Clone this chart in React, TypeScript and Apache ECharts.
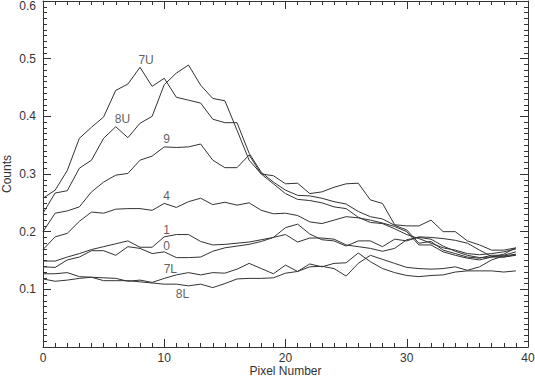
import React, { useEffect, useRef } from "react";
import * as echarts from "echarts";

const pixelNumbers = [0,1,2,3,4,5,6,7,8,9,10,11,12,13,14,15,16,17,18,19,20,21,22,23,24,25,26,27,28,29,30,31,32,33,34,35,36,37,38,39];

const s7U = [0.258,0.272,0.306,0.362,0.381,0.399,0.445,0.456,0.485,0.452,0.466,0.433,0.428,0.423,0.395,0.389,0.389,0.336,0.303,0.286,0.272,0.263,0.262,0.258,0.252,0.248,0.235,0.226,0.222,0.211,0.203,0.180,0.183,0.168,0.162,0.156,0.154,0.159,0.159,0.165];
const s8U = [0.232,0.267,0.271,0.310,0.324,0.362,0.382,0.363,0.388,0.400,0.455,0.475,0.489,0.454,0.431,0.427,0.376,0.324,0.300,0.283,0.266,0.256,0.254,0.250,0.243,0.240,0.225,0.216,0.214,0.205,0.195,0.188,0.180,0.172,0.168,0.162,0.160,0.162,0.165,0.170];
const s9 = [0.200,0.232,0.236,0.243,0.269,0.286,0.298,0.301,0.324,0.331,0.347,0.346,0.347,0.352,0.324,0.311,0.311,0.333,0.300,0.297,0.283,0.284,0.266,0.269,0.277,0.283,0.284,0.255,0.249,0.212,0.210,0.210,0.220,0.200,0.200,0.184,0.177,0.168,0.168,0.172];
const s4 = [0.169,0.191,0.197,0.218,0.234,0.232,0.239,0.240,0.240,0.237,0.249,0.242,0.252,0.258,0.247,0.251,0.246,0.250,0.237,0.231,0.232,0.228,0.217,0.214,0.220,0.226,0.224,0.220,0.215,0.209,0.200,0.177,0.177,0.165,0.159,0.154,0.151,0.156,0.156,0.159];
const s1 = [0.149,0.149,0.156,0.162,0.169,0.174,0.179,0.184,0.173,0.173,0.191,0.195,0.195,0.183,0.177,0.178,0.180,0.182,0.186,0.190,0.207,0.213,0.196,0.186,0.184,0.175,0.184,0.184,0.174,0.187,0.184,0.191,0.190,0.188,0.185,0.180,0.168,0.157,0.156,0.160];
const s0 = [0.139,0.138,0.151,0.156,0.167,0.167,0.159,0.174,0.171,0.162,0.165,0.155,0.155,0.156,0.166,0.172,0.175,0.178,0.183,0.190,0.195,0.182,0.189,0.189,0.187,0.177,0.174,0.171,0.166,0.171,0.186,0.190,0.187,0.175,0.166,0.159,0.155,0.156,0.161,0.172];
const s7L = [0.118,0.114,0.116,0.119,0.121,0.120,0.119,0.114,0.116,0.112,0.119,0.125,0.129,0.125,0.129,0.128,0.135,0.145,0.136,0.127,0.142,0.131,0.144,0.139,0.145,0.146,0.163,0.148,0.136,0.129,0.124,0.122,0.124,0.125,0.130,0.132,0.132,0.132,0.130,0.132];
const s8L = [0.127,0.127,0.129,0.122,0.121,0.115,0.115,0.115,0.113,0.111,0.109,0.109,0.106,0.109,0.103,0.110,0.118,0.119,0.119,0.120,0.128,0.131,0.139,0.140,0.136,0.123,0.145,0.159,0.152,0.145,0.138,0.136,0.135,0.136,0.139,0.133,0.139,0.151,0.158,0.161];

const seriesNames = ["7U", "8U", "9", "4", "1", "0", "7L", "8L"];
const seriesValues = [s7U, s8U, s9, s4, s1, s0, s7L, s8L];

// label anchor positions in data coordinates (pixel number, counts)
const labelX = [8.5, 6.55, 10.2, 10.2, 10.2, 10.2, 10.5, 11.5];
const labelY = [0.497, 0.395, 0.360, 0.261, 0.203, 0.176, 0.135, 0.092];

const xTicks = [0, 10, 20, 30, 40];
const yTicks = [0.0, 0.1, 0.2, 0.3, 0.4, 0.5, 0.6];

const INK = "#333333";
const FONT = "Liberation Sans, Arial, sans-serif";

export default function App() {
  const ref = useRef<HTMLDivElement>(null);
  useEffect(() => {
    if (!ref.current) return;
    const chart = echarts.init(ref.current, undefined, { renderer: "svg" });
    const tickCommon = {
      axisLine: { show: true, onZero: false, lineStyle: { color: INK, width: 1 } },
      axisTick: { show: true, inside: true, length: 8, lineStyle: { color: INK, width: 1 } },
      minorTick: { show: true, splitNumber: 10, length: 4, lineStyle: { color: INK, width: 1 } },
      splitLine: { show: false },
      minorSplitLine: { show: false },
    };
    const xBase = {
      type: "value" as const,
      min: xTicks[0],
      max: xTicks[xTicks.length - 1],
      interval: xTicks[1] - xTicks[0],
      ...tickCommon,
    };
    const yMax = yTicks[yTicks.length - 1];
    const yBase = {
      type: "value" as const,
      min: yTicks[0],
      max: yMax,
      interval: 0.1,
      ...tickCommon,
    };
    const lineSeries = seriesNames.map((name, k) => ({
      name,
      type: "line" as const,
      data: pixelNumbers.map((p, i) => [p, seriesValues[k][i]]),
      symbol: "none",
      lineStyle: { color: INK, width: 1 },
      silent: true,
      z: 2,
    }));
    const labelSeries = {
      type: "scatter" as const,
      data: seriesNames.map((n, k) => [labelX[k], labelY[k], n]),
      symbolSize: 0,
      silent: true,
      label: {
        show: true,
        position: "inside",
        formatter: (p: any) => p.data[2],
        color: INK,
        fontSize: 12,
        fontFamily: FONT,
      },
      z: 3,
    };
    chart.setOption({
      animation: false,
      backgroundColor: "#ffffff",
      grid: { left: 43, right: 7, top: 1, bottom: 31, containLabel: false, outerBoundsMode: "none" },
      xAxis: [
        {
          ...xBase,
          position: "bottom",
          name: "Pixel Number",
          nameLocation: "middle",
          nameGap: 18,
          nameMoveOverlap: false,
          nameTextStyle: { color: INK, fontSize: 12, lineHeight: 12, fontFamily: FONT },
          axisLabel: { color: INK, fontSize: 12, lineHeight: 12, fontFamily: FONT, margin: 5, formatter: (v: number) => String(v) },
        },
        { ...xBase, position: "top", axisLabel: { show: false } },
      ],
      yAxis: [
        {
          ...yBase,
          position: "left",
          name: "Counts",
          nameLocation: "middle",
          nameGap: 30,
          nameMoveOverlap: false,
          nameRotate: 90,
          nameTextStyle: { color: INK, fontSize: 12, fontFamily: FONT },
          axisLabel: {
            color: INK,
            fontSize: 12,
            fontFamily: FONT,
            margin: 7,
            formatter: (v: number) => {
              if (Math.abs(v) < 1e-9) return "";
              if (Math.abs(v - yMax) < 1e-9) return "{top|" + v.toFixed(1) + "}";
              return v.toFixed(1);
            },
            rich: { top: { color: INK, fontSize: 12, fontFamily: FONT, padding: [9, 0, 0, 0] } },
          },
        },
        { ...yBase, position: "right", axisLabel: { show: false } },
      ],
      series: [...lineSeries, labelSeries],
    });
    return () => chart.dispose();
  }, []);
  return <div ref={ref} style={{ width: 535, height: 378, position: "absolute", left: 0, top: 0 }} />;
}
